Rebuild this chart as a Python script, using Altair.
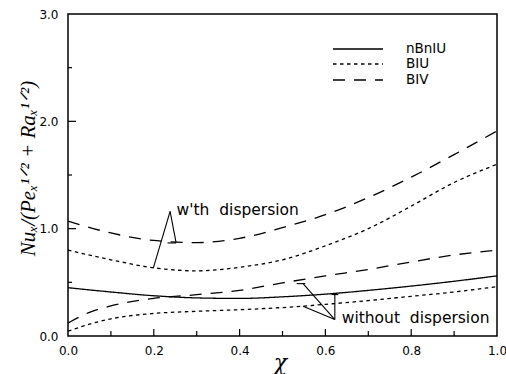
import altair as alt
import pandas as pd

# ---- data ----
chi = [0.0, 0.1, 0.2, 0.3, 0.4, 0.5, 0.6, 0.7, 0.8, 0.9, 1.0]

nbniu = [0.45, 0.41, 0.375, 0.355, 0.35, 0.365, 0.39, 0.425, 0.465, 0.51, 0.56]
biu_with = [0.80, 0.71, 0.635, 0.607, 0.64, 0.71, 0.84, 1.00, 1.21, 1.43, 1.60]
biv_with = [1.07, 0.96, 0.89, 0.87, 0.91, 1.01, 1.13, 1.29, 1.48, 1.69, 1.91]

chi_low = [0.0, 0.05, 0.1, 0.2, 0.3, 0.4, 0.5, 0.6, 0.7, 0.8, 0.9, 1.0]
biv_without = [0.12, 0.22, 0.28, 0.35, 0.385, 0.425, 0.495, 0.56, 0.62, 0.69, 0.755, 0.80]
biu_without = [0.045, 0.11, 0.16, 0.21, 0.23, 0.245, 0.265, 0.295, 0.33, 0.37, 0.41, 0.46]

styles = ["nBnIU", "BIU", "BIV"]
dash_patterns = [[1, 0], [3.5, 3.5], [12, 9]]

x_ticks = [0.0, 0.2, 0.4, 0.6, 0.8, 1.0]
y_ticks = [0.0, 1.0, 2.0, 3.0]
x_major_in = [0.2, 0.4, 0.6, 0.8]
x_minor_in = [0.1, 0.3, 0.5, 0.7, 0.9]
y_major_in = [1.0, 2.0]
y_minor_in = [0.5, 1.5, 2.5]

# annotation segments (x1, y1, x2, y2)
seg_x1 = [0.199, 0.238, 0.252, 0.548, 0.533, 0.548, 0.622, 0.614]
seg_y1 = [0.634, 1.161, 0.867, 0.488, 0.488, 0.277, 0.153, 0.386]
seg_x2 = [0.238, 0.252, 0.232, 0.622, 0.553, 0.622, 0.622, 0.630]
seg_y2 = [1.161, 0.867, 0.867, 0.153, 0.488, 0.153, 0.386, 0.386]

label_text = ["w'th\u00a0\u00a0dispersion", "without\u00a0\u00a0dispersion"]
label_x = [0.253, 0.638]
label_y = [1.172, 0.169]

# ---- tables ----
rows = []
for name, xs, ys, st in [
    ("nBnIU", chi, nbniu, "nBnIU"),
    ("BIU with", chi, biu_with, "BIU"),
    ("BIV with", chi, biv_with, "BIV"),
    ("BIV without", chi_low, biv_without, "BIV"),
    ("BIU without", chi_low, biu_without, "BIU"),
]:
    for xv, yv in zip(xs, ys):
        rows.append({"chi": xv, "val": yv, "curve": name, "style": st})
df = pd.DataFrame(rows)

seg_df = pd.DataFrame({"x1": seg_x1, "y1": seg_y1, "x2": seg_x2, "y2": seg_y2})
lab_df = pd.DataFrame({"t": label_text, "x": label_x, "y": label_y})

xscale = alt.Scale(domain=[0, 1], nice=False, zero=False)
yscale = alt.Scale(domain=[0, 3], nice=False, zero=False)
dash_scale = alt.Scale(domain=styles, range=dash_patterns)

W, H = 429, 322

xaxis = alt.Axis(values=x_ticks, format=".1f", ticks=False, domain=False, grid=False,
                 labelFlush=False, labelFont="DejaVu Sans", labelFontSize=12,
                 labelPadding=9, labelColor="black",
                 title="χ", titleFont="DejaVu Serif", titleFontStyle="italic",
                 titleFontWeight="normal", titleFontSize=22, titleColor="black",
                 titleX=212, titleY=26, titleBaseline="middle")
yaxis = alt.Axis(values=y_ticks, format=".1f", ticks=False, domain=False, grid=False,
                 labelFlush=False, labelFont="DejaVu Sans", labelFontSize=12,
                 labelPadding=10, labelColor="black",
                 title="Nuₓ/(Peₓ¹ᐟ² + Raₓ¹ᐟ²)", titleFont="Liberation Serif",
                 titleFontStyle="italic", titleFontWeight="normal", titleFontSize=21,
                 titleColor="black", titleX=-40, titleY=154, titleBaseline="middle",
                 titleAngle=270)

lines = alt.Chart(df).mark_line(color="black", strokeWidth=1.3, interpolate="monotone").encode(
    x=alt.X("chi:Q", scale=xscale, axis=xaxis),
    y=alt.Y("val:Q", scale=yscale, axis=yaxis),
    detail="curve:N",
    strokeDash=alt.StrokeDash("style:N", scale=dash_scale, legend=None),
    order="chi:Q",
)

segs = alt.Chart(seg_df).mark_rule(color="black", strokeWidth=1.1).encode(
    x=alt.X("x1:Q", scale=xscale), y=alt.Y("y1:Q", scale=yscale),
    x2="x2:Q", y2="y2:Q",
)

labels = alt.Chart(lab_df).mark_text(align="left", baseline="middle", font="DejaVu Sans",
                                     fontSize=15.5, color="black").encode(
    x=alt.X("x:Q", scale=xscale), y=alt.Y("y:Q", scale=yscale), text="t:N",
)

# inward ticks
xt_major = alt.Chart(pd.DataFrame({"v": x_major_in})).mark_rule(color="black", strokeWidth=1.2).encode(
    x=alt.X("v:Q", scale=xscale), y=alt.value(H), y2=alt.value(H - 7))
xt_minor = alt.Chart(pd.DataFrame({"v": x_minor_in})).mark_rule(color="black", strokeWidth=1.2).encode(
    x=alt.X("v:Q", scale=xscale), y=alt.value(H), y2=alt.value(H - 5))
yt_major = alt.Chart(pd.DataFrame({"v": y_major_in})).mark_rule(color="black", strokeWidth=1.2).encode(
    y=alt.Y("v:Q", scale=yscale), x=alt.value(0), x2=alt.value(8))
yt_minor = alt.Chart(pd.DataFrame({"v": y_minor_in})).mark_rule(color="black", strokeWidth=1.2).encode(
    y=alt.Y("v:Q", scale=yscale), x=alt.value(0), x2=alt.value(4))

# manual legend (one row per style)
leg_rows_y = [35, 50, 66]
leg_layers = []
for st, ly in zip(styles, leg_rows_y):
    d = pd.DataFrame({"style": [st]})
    leg_layers.append(alt.Chart(d).mark_rule(color="black", strokeWidth=1.3).encode(
        x=alt.value(265), x2=alt.value(315), y=alt.value(ly),
        strokeDash=alt.StrokeDash("style:N", scale=dash_scale, legend=None)))
    leg_layers.append(alt.Chart(d).mark_text(align="left", baseline="middle", font="DejaVu Sans",
                                             fontSize=13.5, color="black").encode(
        x=alt.value(338), y=alt.value(ly), text="style:N"))

chart = alt.layer(lines, segs, labels, xt_major, xt_minor, yt_major, yt_minor,
                  *leg_layers).properties(
    width=W, height=H,
    autosize=alt.AutoSizeParams(type="none"),
    padding={"left": 68, "top": 14, "right": 9, "bottom": 38},
    background="white",
).configure_view(stroke="black", strokeWidth=1.5)

chart.save("out.html", embed_options={"renderer": "svg", "actions": False})
